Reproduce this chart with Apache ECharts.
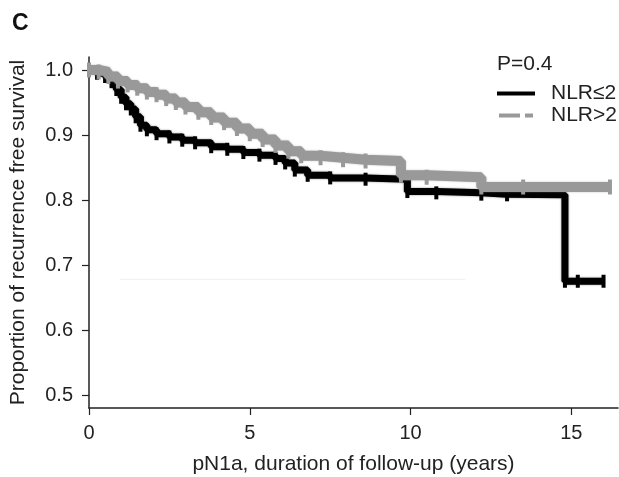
<!DOCTYPE html>
<html>
<head>
<meta charset="utf-8">
<script src="https://cdn.jsdelivr.net/npm/echarts@6/dist/echarts.min.js"></script>
<style>html,body{margin:0;padding:0;background:#fff;}#c{width:619px;height:477px;}</style>
</head>
<body>
<div id="c"></div>
<script>
// Kaplan–Meier data
var lowT  = [0, 0.25, 0.5, 0.7, 0.85, 1.0, 1.15, 1.3, 1.45, 1.6, 1.8, 2.1, 2.5, 2.9, 3.3, 3.8, 4.3, 4.8, 5.3, 5.8, 6.1, 6.4, 6.8, 7.5, 8.6, 9.9, 10.8, 12.2, 13.0, 14.8, 15.2, 16.0];
var lowV  = [1.0, 0.995, 0.99, 0.982, 0.97, 0.958, 0.948, 0.94, 0.928, 0.915, 0.908, 0.902, 0.897, 0.892, 0.888, 0.882, 0.878, 0.873, 0.869, 0.864, 0.857, 0.846, 0.838, 0.834, 0.832, 0.813, 0.811, 0.809, 0.808, 0.675, 0.675, 0.675];
var highT = [0, 0.3, 0.6, 0.9, 1.2, 1.5, 1.8, 2.1, 2.4, 2.7, 3.0, 3.4, 3.8, 4.2, 4.6, 5.0, 5.4, 5.8, 6.2, 6.6, 7.2, 7.9, 8.6, 9.7, 10.5, 12.2, 13.5, 16.2];
var highV = [1.0, 0.997, 0.99, 0.983, 0.977, 0.972, 0.966, 0.962, 0.956, 0.95, 0.943, 0.935, 0.927, 0.919, 0.91, 0.902, 0.893, 0.884, 0.875, 0.868, 0.865, 0.862, 0.86, 0.838, 0.835, 0.82, 0.82, 0.82];
var faintT = [0.96, 11.7];
var faintV = [0.678, 0.678];
var yTicks = [0.5, 0.6, 0.7, 0.8, 0.9, 1.0];
var xTicks = [0, 5, 10, 15];
var seriesNames = ['NLR≤2', 'NLR>2'];
var pText = 'P=0.4';
var panelLabel = 'C';
var xTitle = 'pN1a, duration of follow-up (years)';
var yTitle = 'Proportion of recurrence free survival';

function zip(a, b) { return a.map(function (v, i) { return [v, b[i]]; }); }

var FONT = '"Liberation Sans", Arial, sans-serif';
var chart = echarts.init(document.getElementById('c'), null, {renderer: 'canvas'});
chart.setOption({
  animation: false,
  backgroundColor: '#ffffff',
  title: [
    {text: panelLabel, left: 7, top: 7, textStyle: {fontFamily: FONT, fontSize: 23, fontWeight: 'bold', color: '#111'}},
    {text: pText, left: 492, top: 49, textStyle: {fontFamily: FONT, fontSize: 21, fontWeight: 'normal', color: '#222'}}
  ],
  legend: {
    orient: 'vertical', left: 492, top: 78, itemWidth: 38, itemHeight: 4, itemGap: 1,
    textStyle: {fontFamily: FONT, fontSize: 21, color: '#222', padding: [0, 0, 0, 11]},
    data: [
      {name: seriesNames[0], icon: 'path://M0,0H38V4H0Z', itemStyle: {color: '#000'}},
      {name: seriesNames[1], icon: 'path://M0,0H21V4H0Z M26,0H34V4H26Z', itemStyle: {color: '#999'}}
    ]
  },
  grid: {left: 89, right: 1, top: 57, bottom: 69, containLabel: false, outerBoundsMode: 'none'},
  xAxis: {
    type: 'value', min: 0, max: 16.45,
    name: xTitle, nameLocation: 'middle', nameGap: 46,
    nameTextStyle: {fontFamily: FONT, fontSize: 21, color: '#222'},
    axisLine: {show: true, lineStyle: {color: '#222', width: 1.5}},
    axisTick: {show: true, length: 7, lineStyle: {color: '#222', width: 1.2}, customValues: xTicks},
    axisLabel: {fontFamily: FONT, fontSize: 20, color: '#222', margin: 15, customValues: xTicks},
    splitLine: {show: false}
  },
  yAxis: {
    type: 'value', min: 0.48, max: 1.02,
    name: yTitle, nameLocation: 'middle', nameGap: 60, nameRotate: 90,
    nameTextStyle: {fontFamily: FONT, fontSize: 21, color: '#222'},
    axisLine: {show: true, lineStyle: {color: '#222', width: 1.5}},
    axisTick: {show: true, length: 7, lineStyle: {color: '#222', width: 1.2}, customValues: yTicks},
    axisLabel: {fontFamily: FONT, fontSize: 20, color: '#222', margin: 16, customValues: yTicks,
      formatter: function (v) { return v.toFixed(1); }},
    splitLine: {show: false}
  },
  series: [
    {name: 'faint', type: 'line', data: zip(faintT, faintV), symbol: 'none', silent: true,
     lineStyle: {color: '#efefef', width: 1}, z: 1},
    {name: seriesNames[0], type: 'line', step: 'end', data: zip(lowT, lowV),
     symbol: 'rect', symbolSize: [4, 13], itemStyle: {color: '#000'},
     lineStyle: {color: '#000', width: 7, shadowBlur: 2, shadowColor: 'rgba(0,0,0,0.5)'}, z: 2},
    {name: seriesNames[1], type: 'line', step: 'end', data: zip(highT, highV),
     symbol: 'rect', symbolSize: [4, 15], itemStyle: {color: '#999'},
     lineStyle: {color: '#999', width: 10, shadowBlur: 2, shadowColor: 'rgba(150,150,150,0.6)'}, z: 3}
  ]
});
</script>
</body>
</html>
